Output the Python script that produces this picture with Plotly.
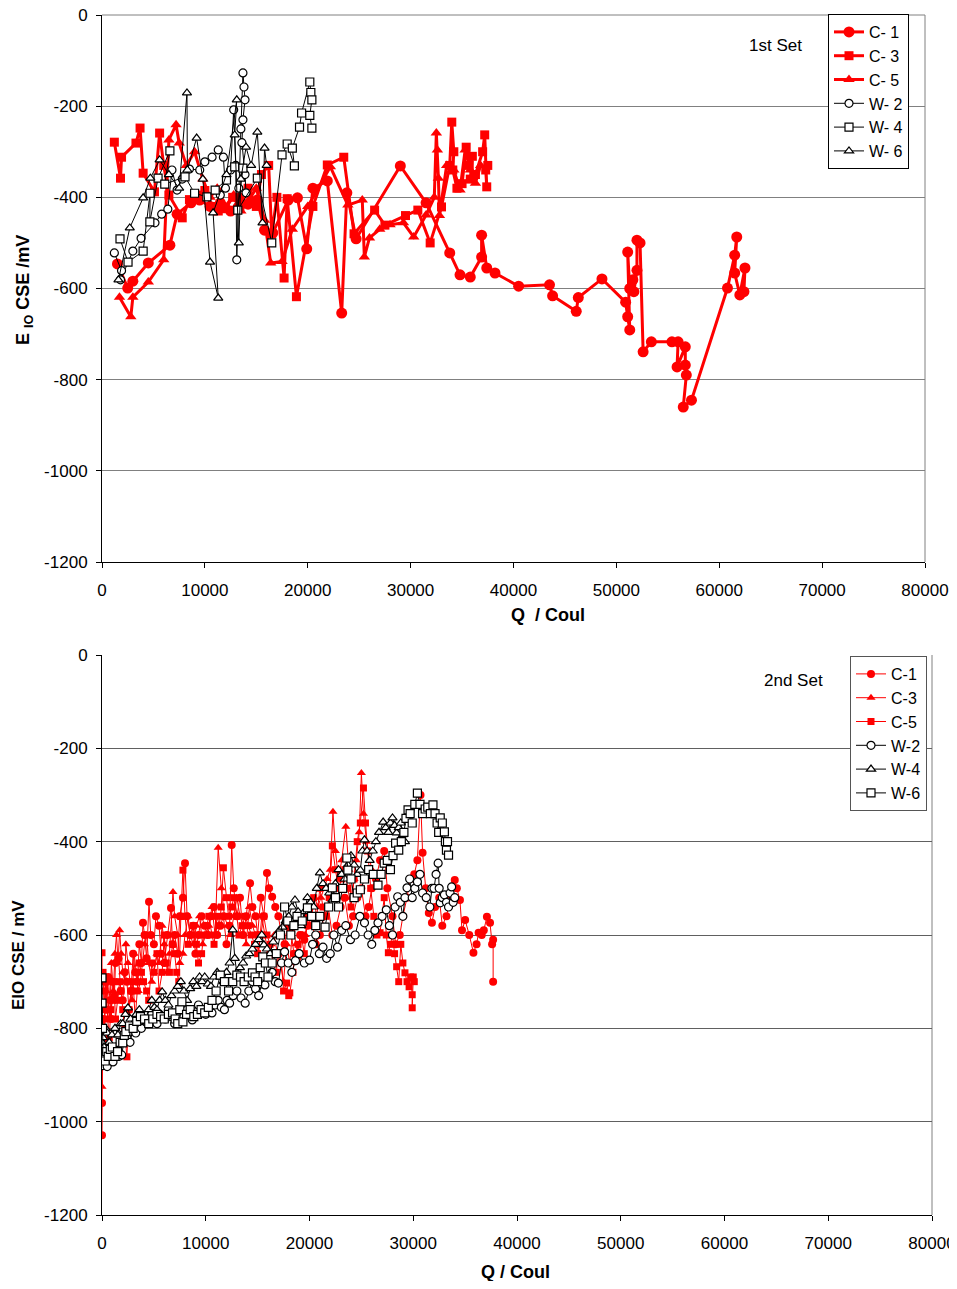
import plotly.graph_objects as go

# ---------------- Top chart (1st Set) ----------------
C1_q = [1500,2500,3000,4500,6600,7300,8650,9500,10500,11500,12500,13400,14200,15100,15800,16600,18100,19000,19900,20500,21900,23300,23800,24700,29000,31500,33800,34800,35800,36900,36900,37400,38200,40500,43500,43800,46100,46300,48600,50900,51100,51300,51100,51300,51600,51700,52000,52000,52300,52600,53400,55400,56000,55900,56700,56700,56800,56500,57300,60800,61500,61700,61500,62000,62500,62400]
C1_e = [-546,-599,-584,-544,-505,-437,-412,-406,-420,-412,-430,-401,-415,-406,-472,-478,-406,-401,-513,-380,-364,-654,-390,-491,-331,-412,-522,-570,-575,-531,-483,-555,-566,-595,-592,-616,-650,-620,-579,-630,-662,-691,-520,-600,-581,-607,-560,-494,-500,-739,-717,-717,-717,-772,-728,-768,-790,-860,-845,-599,-527,-487,-566,-614,-555,-607]

C3_q = [1200,1800,1900,3300,3700,4000,5100,5600,6000,6500,7800,8500,9300,10000,10700,11300,12000,12700,13400,14200,15000,15500,16200,16500,17000,17700,18000,18900,20500,21900,23500,24500,26500,27500,29500,30700,31900,33000,33800,34000,34200,34100,34500,35000,35400,35700,36000,35800,36300,37000,37200,37400,37300,37500]
C3_e = [-279,-358,-312,-281,-248,-347,-388,-259,-330,-395,-445,-405,-395,-385,-420,-430,-425,-400,-420,-380,-420,-350,-330,-480,-400,-577,-403,-618,-420,-329,-312,-480,-428,-461,-440,-428,-500,-421,-330,-235,-300,-340,-380,-370,-290,-330,-310,-360,-350,-300,-263,-377,-340,-330]

C5_q = [1700,2800,3000,4500,6000,6500,7200,7500,8200,9000,9800,10500,11200,12000,12800,13500,14300,15000,15800,16400,17500,18500,20000,22200,23900,25300,25500,26000,27000,28000,29300,30300,31500,32300,32500,32600,32700,32800,33500,34200,34800,35300,35800,36300,36800]
C5_e = [-619,-662,-619,-586,-537,-274,-241,-281,-330,-300,-360,-400,-380,-420,-395,-430,-405,-380,-450,-544,-541,-470,-420,-333,-417,-406,-531,-489,-470,-460,-456,-487,-439,-400,-259,-296,-358,-440,-330,-340,-384,-296,-340,-369,-330]

W2_q = [1200,1900,1800,3000,3800,5150,5800,6400,6800,7300,7800,8500,9500,10000,10700,11300,11800,12000,11500,12500,12800,13000,13100,13300,13500,13700,13800,13900,13700,13600,13900,14000]
W2_e = [-522,-561,-581,-518,-490,-456,-437,-426,-340,-384,-360,-338,-340,-322,-312,-296,-312,-380,-395,-340,-208,-330,-537,-380,-250,-127,-158,-186,-230,-280,-350,-390]

W4_q = [1750,2530,4000,4670,4650,5450,6600,6100,8070,9000,10200,11000,12100,12900,13700,13200,15100,16500,17500,18000,18700,18500,19200,19400,20200,20300,20400,20200,20400]
W4_e = [-491,-542,-518,-391,-454,-358,-298,-371,-355,-391,-399,-384,-362,-333,-336,-428,-358,-500,-307,-283,-331,-292,-246,-215,-147,-170,-186,-220,-248]

W6_q = [1600,2700,4000,4700,5600,6500,7500,8260,8300,9200,9800,10500,11300,10800,12100,13100,12900,13300,13500,14000,14500,15100,15600,15800,16000]
W6_e = [-581,-467,-401,-358,-318,-350,-380,-171,-340,-270,-360,-542,-621,-434,-350,-186,-263,-500,-360,-290,-330,-257,-456,-292,-330]

# ---------------- Bottom chart (2nd Set): (Q, E) readings ----------------
B_C1 = [(0,-1029),(0,-960),(50,-880),(100,-780),(200,-830),(300,-700),(400,-760),(600,-690),(800,-740),(900,-780),
        (1000,-700),(1200,-730),(1300,-660),(1600,-650),(1800,-720),(2000,-740),(2200,-680),(2400,-700),(2600,-760),(2800,-720),
        (3000,-640),(3200,-680),(3400,-700),(3600,-620),(3800,-660),(3950,-574),(4100,-600),(4300,-650),(4530,-529),(4700,-600),
        (5000,-620),(5200,-560),(5500,-580),(5700,-640),(6000,-660),(6300,-600),(6650,-542),(6800,-620),(7000,-600),(7300,-640),
        (7500,-560),(7800,-520),(8000,-446),(8200,-560),(8500,-600),(8800,-580),(9000,-640),(9300,-600),(9600,-560),(9900,-580),
        (10200,-600),(10500,-560),(10800,-540),(11100,-600),(11400,-580),(11700,-560),(12000,-620),(12300,-580),(12500,-407),(12700,-500),
        (13000,-560),(13300,-520),(13600,-600),(13900,-560),(14270,-489),(14500,-540),(14800,-560),(15000,-600),(15300,-520),(15600,-560),
        (15900,-467),(16100,-500),(16400,-518),(16700,-540),(17000,-560),(17300,-600),(17600,-620),(17900,-580),(18200,-590),(18500,-640),
        (18800,-650),(19100,-600),(19500,-610),(19800,-580),(20200,-560),(20600,-620),(21000,-600),(21400,-560),(21800,-540),(22200,-600),
        (22600,-580),(23000,-540),(23400,-520),(23800,-580),(24200,-560),(24600,-520),(25000,-500),(25400,-560),(25700,-540),(26000,-500),
        (26400,-480),(26800,-440),(27200,-420),(27500,-500),(28000,-560),(28300,-620),(28700,-600),(29000,-560),(29400,-520),(29700,-480),
        (30100,-470),(30400,-440),(30700,-300),(30900,-424),(31200,-500),(31500,-553),(31800,-574),(32100,-540),(32500,-520),(32800,-580),
        (33200,-560),(33600,-520),(34000,-482),(34200,-500),(34500,-525),(34700,-590),(35000,-568),(35400,-600),(35800,-638),(36100,-620),
        (36300,-595),(36600,-600),(36800,-590),(37100,-561),(37400,-574),(37600,-620),(37700,-610),(37700,-700)]

B_C3 = [(0,-925),(0,-880),(100,-800),(200,-840),(300,-760),(400,-720),(500,-700),(700,-780),(800,-740),(900,-660),
        (1100,-720),(1250,-640),(1400,-600),(1550,-660),(1700,-590),(1850,-640),(2000,-680),(2200,-700),(2300,-620),(2500,-660),
        (2700,-700),(2900,-740),(3100,-640),(3300,-680),(3500,-720),(3700,-700),(3900,-660),(4100,-620),(4300,-600),(4500,-660),
        (4800,-700),(5000,-680),(5300,-640),(5500,-660),(5800,-580),(6000,-620),(6300,-680),(6500,-640),(6840,-508),(7000,-560),
        (7300,-600),(7500,-660),(7800,-640),(8000,-600),(8300,-560),(8500,-600),(8800,-620),(9100,-580),(9400,-560),(9700,-620),
        (10000,-600),(10300,-580),(10600,-540),(10900,-600),(11200,-413),(11500,-500),(11800,-560),(12100,-580),(12400,-600),(12700,-560),
        (13000,-520),(13300,-560),(13600,-580),(13900,-620),(14200,-540),(14500,-580),(14800,-600),(15100,-640),(15400,-560),(15700,-600),
        (16000,-640),(16300,-620),(16600,-600),(16900,-640),(17200,-660),(17500,-700),(17800,-620),(18100,-660),(18400,-580),(18700,-620),
        (19000,-640),(19300,-600),(19600,-600),(19900,-560),(20200,-560),(20500,-520),(20800,-540),(21100,-520),(21400,-500),(21700,-480),
        (22000,-460),(22260,-336),(22500,-420),(22800,-480),(23100,-440),(23500,-368),(23800,-460),(24000,-520),(24300,-480),(24500,-440),
        (24800,-380),(25000,-253),(25200,-340),(25500,-400),(25800,-440),(26000,-460)]

B_C5 = [(0,-638),(0,-700),(100,-680),(200,-760),(300,-720),(400,-700),(550,-780),(700,-820),(850,-760),(1000,-740),
        (1150,-700),(1300,-780),(1500,-740),(1700,-700),(1850,-720),(2000,-760),(2200,-800),(2400,-861),(2600,-760),(2800,-720),
        (3000,-700),(3200,-780),(3400,-720),(3600,-660),(3800,-680),(4000,-700),(4300,-720),(4500,-740),(4800,-660),(5000,-680),
        (5300,-640),(5500,-720),(5800,-680),(6000,-600),(6200,-660),(6500,-680),(6800,-620),(7000,-640),(7200,-680),(7400,-700),
        (7600,-560),(7800,-461),(8000,-560),(8300,-620),(8600,-600),(8800,-580),(9100,-620),(9300,-660),(9600,-640),(9800,-600),
        (10100,-580),(10300,-560),(10600,-600),(10800,-620),(11100,-560),(11300,-580),(11500,-540),(11700,-456),(12000,-520),(12200,-560),
        (12500,-540),(12700,-520),(13000,-560),(13200,-600),(13500,-580),(13800,-560),(14100,-580),(14400,-600),(14700,-620),(15000,-640),
        (15300,-600),(15600,-560),(15900,-600),(16200,-620),(16500,-660),(16800,-680),(17000,-640),(17300,-660),(17500,-720),(17800,-703),
        (18000,-730),(18100,-724),(18400,-680),(18600,-640),(18900,-620),(19200,-600),(19500,-640),(19800,-560),(20100,-580),(20400,-520),
        (20700,-560),(21000,-500),(21300,-540),(21600,-560),(21900,-520),(22200,-409),(22500,-460),(22800,-500),(23100,-480),(23400,-460),
        (23700,-500),(24000,-540),(24300,-480),(24600,-400),(24900,-360),(25200,-285),(25400,-360),(25600,-420),(25900,-500),(26200,-560),
        (26500,-600),(26800,-595),(27000,-560),(27200,-520),(27400,-600),(27600,-638),(27800,-620),(28000,-600),(28200,-640),(28400,-668),
        (28600,-700),(28800,-620),(29000,-660),(29200,-681),(29400,-700),(29600,-711),(29750,-690),(29900,-728),(29900,-756),(30000,-690),
        (30100,-700)]

B_W2 = [(0,-860),(50,-880),(100,-840),(200,-870),(300,-860),(500,-882),(650,-860),(800,-850),(1060,-872),(1200,-850),
        (1400,-840),(1650,-860),(1900,-857),(2100,-830),(2400,-820),(2700,-830),(3000,-800),(3250,-810),(3500,-790),(3800,-800),
        (4100,-782),(4400,-790),(4800,-770),(5050,-780),(5300,-790),(5550,-770),(5800,-775),(6100,-780),(6400,-760),(6700,-775),
        (7000,-790),(7300,-780),(7600,-770),(7900,-775),(8200,-760),(8450,-770),(8700,-782),(9000,-765),(9300,-750),(9650,-760),
        (10000,-770),(10300,-755),(10600,-767),(10900,-750),(11200,-740),(11500,-755),(11800,-760),(12050,-740),(12300,-746),(12650,-730),
        (13000,-720),(13400,-735),(13800,-746),(14150,-720),(14500,-700),(14800,-715),(15100,-730),(15400,-705),(15700,-707),(16050,-690),
        (16400,-680),(16700,-700),(17000,-703),(17300,-660),(17600,-636),(17950,-660),(18300,-680),(18650,-655),(19000,-640),(19500,-660),
        (20000,-654),(20300,-620),(20600,-600),(20950,-640),(21300,-626),(21650,-650),(22000,-640),(22350,-600),(22700,-626),(23100,-590),
        (23500,-580),(23950,-610),(24400,-600),(24850,-560),(25300,-574),(25650,-600),(26000,-620),(26300,-590),(26600,-574),(27000,-560),
        (27400,-546),(27700,-580),(28000,-600),(28250,-540),(28500,-518),(28750,-530),(29000,-560),(29200,-520),(29400,-499),(29650,-480),
        (29900,-520),(30150,-500),(30400,-486),(30650,-470),(30900,-510),(31250,-520),(31600,-540),(31800,-500),(32000,-500),(32200,-470),
        (32400,-446),(32500,-500),(32600,-531),(32800,-520),(33000,-514),(33200,-530),(33400,-540),(33550,-510),(33700,-497),(33850,-530),
        (34000,-520)]

B_W4 = [(0,-830),(0,-850),(100,-820),(200,-840),(350,-800),(500,-810),(700,-830),(960,-814),(1250,-800),(1540,-814),
        (1800,-790),(2000,-790),(2250,-770),(2500,-756),(2750,-780),(3000,-790),(3300,-770),(3600,-760),(3900,-775),(4200,-780),
        (4500,-760),(4800,-740),(5050,-755),(5300,-760),(5550,-740),(5800,-722),(6100,-740),(6400,-750),(6700,-730),(7000,-720),
        (7300,-710),(7600,-700),(7900,-720),(8200,-740),(8500,-715),(8800,-700),(9100,-710),(9400,-690),(9650,-700),(9900,-690),
        (10200,-705),(10500,-710),(10800,-690),(11100,-680),(11400,-690),(11700,-700),(12000,-680),(12300,-660),(12600,-589),(12800,-650),
        (13000,-681),(13300,-670),(13600,-660),(13900,-645),(14200,-640),(14500,-630),(14800,-620),(15100,-610),(15400,-600),(15600,-621),
        (15900,-630),(16200,-640),(16500,-615),(16800,-600),(17100,-590),(17400,-583),(17700,-570),(18000,-560),(18300,-540),(18600,-525),
        (18900,-550),(19200,-580),(19500,-550),(19800,-520),(20100,-530),(20400,-540),(20700,-500),(21000,-467),(21300,-490),(21600,-500),
        (21900,-510),(22200,-525),(22500,-490),(22800,-460),(23100,-470),(23400,-480),(23700,-450),(24000,-430),(24300,-450),(24600,-470),
        (24900,-461),(25100,-420),(25300,-396),(25550,-420),(25800,-440),(26100,-420),(26400,-400),(26700,-380),(27100,-358),(27350,-370),
        (27600,-380),(27800,-360),(28000,-349),(28200,-365),(28400,-381),(28600,-370),(28800,-360),(29000,-385),(29200,-400)]

B_W6 = [(0,-692),(0,-746),(50,-800),(100,-850),(200,-860),(300,-870),(450,-850),(600,-860),(800,-845),(1000,-840),
        (1250,-860),(1500,-850),(1750,-830),(2000,-831),(2150,-815),(2300,-807),(2650,-795),(3000,-800),(3350,-785),(3700,-775),
        (4100,-780),(4500,-790),(4900,-780),(5300,-770),(5650,-775),(6000,-780),(6400,-770),(6800,-767),(7050,-780),(7300,-790),
        (7500,-760),(7700,-743),(7800,-786),(8150,-770),(8500,-760),(8850,-775),(9200,-770),(9550,-760),(9900,-767),(10250,-755),
        (10600,-740),(11000,-720),(11400,-686),(11800,-700),(12200,-720),(12600,-700),(13000,-686),(13350,-690),(13700,-700),(14100,-690),
        (14500,-681),(14750,-690),(15000,-700),(15250,-670),(15500,-647),(15750,-660),(16000,-690),(16400,-660),(16800,-640),(17200,-600),
        (17600,-540),(17900,-570),(18200,-600),(18500,-580),(18800,-560),(19300,-570),(19800,-542),(20200,-560),(20600,-580),(21000,-560),
        (21500,-583),(21850,-540),(22200,-499),(22500,-520),(22800,-540),(23200,-500),(23600,-435),(23700,-461),(24000,-480),(24300,-520),
        (24600,-510),(24900,-503),(25300,-480),(25700,-460),(26150,-470),(26600,-493),(26900,-470),(27200,-446),(27500,-440),(27800,-460),
        (28050,-430),(28300,-403),(28600,-418),(28850,-400),(29100,-380),(29300,-350),(29500,-332),(29700,-340),(29900,-360),(30150,-320),
        (30400,-296),(30650,-320),(30900,-340),(31150,-330),(31400,-326),(31650,-340),(31900,-321),(32100,-340),(32300,-360),(32450,-380),
        (32600,-349),(32800,-360),(33000,-379),(33100,-400),(33200,-418),(33300,-400),(33400,-429)]

x_ticks = [0,10000,20000,30000,40000,50000,60000,70000,80000]
x_labels = ["0","10000","20000","30000","40000","50000","60000","70000","80000"]
y_ticks = [0,-200,-400,-600,-800,-1000,-1200]
y_labels = ["0","-200","-400","-600","-800","-1000","-1200"]

FONT = "Arial, Liberation Sans, sans-serif"
RED = "#FF0000"

fig = go.Figure()

def red_trace(x, y, name, symbol, size, width, xa, ya, legend):
    fig.add_trace(go.Scatter(x=x, y=y, name=name, mode="lines+markers",
                             line=dict(color=RED, width=width),
                             marker=dict(symbol=symbol, size=size, color=RED, line=dict(width=0)),
                             xaxis=xa, yaxis=ya, legend=legend))

def black_trace(x, y, name, symbol, size, xa, ya, legend):
    fig.add_trace(go.Scatter(x=x, y=y, name=name, mode="lines+markers",
                             line=dict(color="black", width=1),
                             marker=dict(symbol=symbol, size=size, color="white",
                                         line=dict(color="black", width=1.2)),
                             xaxis=xa, yaxis=ya, legend=legend))

def qs(pairs): return [p[0] for p in pairs]
def es(pairs): return [p[1] for p in pairs]

# top
red_trace(C1_q, C1_e, "C- 1", "circle", 11, 3, "x", "y", "legend")
red_trace(C3_q, C3_e, "C- 3", "square", 9, 3, "x", "y", "legend")
red_trace(C5_q, C5_e, "C- 5", "triangle-up", 10, 3, "x", "y", "legend")
black_trace(W2_q, W2_e, "W- 2", "circle", 8, "x", "y", "legend")
black_trace(W4_q, W4_e, "W- 4", "square", 8, "x", "y", "legend")
black_trace(W6_q, W6_e, "W- 6", "triangle-up", 8, "x", "y", "legend")

# bottom
red_trace(qs(B_C1), es(B_C1), "C-1", "circle", 8, 1, "x2", "y2", "legend2")
red_trace(qs(B_C3), es(B_C3), "C-3", "triangle-up", 8, 1, "x2", "y2", "legend2")
red_trace(qs(B_C5), es(B_C5), "C-5", "square", 7, 1, "x2", "y2", "legend2")
black_trace(qs(B_W2), es(B_W2), "W-2", "circle", 8, "x2", "y2", "legend2")
black_trace(qs(B_W4), es(B_W4), "W-4", "triangle-up", 8, "x2", "y2", "legend2")
black_trace(qs(B_W6), es(B_W6), "W-6", "square", 8, "x2", "y2", "legend2")

# page has an 8px body margin: map page pixels to figure paper coords
OFF = 8
W, H = 941, 1273
def px(xp): return (xp - OFF) / W
def py(yp): return 1 - (yp - OFF) / H

axis_common = dict(showline=True, linecolor="black", linewidth=1, ticks="outside",
                   ticklen=5, tickcolor="black", tickfont=dict(family=FONT, size=17, color="black"),
                   zeroline=False, automargin=False, ticklabeloverflow="allow")

fig.update_layout(
    width=W, height=H, margin=dict(l=0, r=0, t=0, b=0),
    paper_bgcolor="white", plot_bgcolor="white",
    font=dict(family=FONT, color="black"),
    xaxis=dict(domain=[px(102), px(925)], range=[0, 80000], tickvals=x_ticks, ticktext=x_labels,
               showgrid=False, anchor="y", ticklabelstandoff=8, **axis_common),
    yaxis=dict(domain=[py(562), py(15)], range=[-1200, 0], tickvals=y_ticks, ticktext=y_labels,
               showgrid=True, gridcolor="#808080", gridwidth=1, anchor="x", ticklabelstandoff=5, **axis_common),
    xaxis2=dict(domain=[px(102), px(932)], range=[0, 80000], tickvals=x_ticks, ticktext=x_labels,
                showgrid=False, anchor="y2", ticklabelstandoff=8, **axis_common),
    yaxis2=dict(domain=[py(1215), py(655)], range=[-1200, 0], tickvals=y_ticks, ticktext=y_labels,
                showgrid=True, gridcolor="#606060", gridwidth=1, anchor="x2", ticklabelstandoff=5, **axis_common),
    legend=dict(x=px(828), y=py(14), xanchor="left", yanchor="top",
                bgcolor="white", bordercolor="black", borderwidth=1,
                font=dict(family=FONT, size=16, color="black"), tracegroupgap=0),
    legend2=dict(x=px(850), y=py(656), xanchor="left", yanchor="top",
                 bgcolor="white", bordercolor="#555", borderwidth=1,
                 font=dict(family=FONT, size=16, color="black"), tracegroupgap=0),
    showlegend=True,
)

# plot-area borders (top and right) in gray
fig.add_shape(type="line", xref="paper", yref="paper", x0=px(102), x1=px(925), y0=py(15), y1=py(15),
              line=dict(color="#808080", width=1), layer="below")
fig.add_shape(type="line", xref="paper", yref="paper", x0=px(925), x1=px(925), y0=py(562), y1=py(15),
              line=dict(color="#808080", width=1), layer="below")
fig.add_shape(type="line", xref="paper", yref="paper", x0=px(932), x1=px(932), y0=py(1215), y1=py(655),
              line=dict(color="#808080", width=1), layer="below")

ann = [
    dict(text="1st Set", x=px(775), y=py(46), size=17, angle=0),
    dict(text="2nd Set", x=px(793), y=py(680), size=17, angle=0),
    dict(text="<b>Q  / Coul</b>", x=px(548), y=py(615), size=18, angle=0),
    dict(text="<b>Q / Coul</b>", x=px(516), y=py(1272), size=18, angle=0),
    dict(text="<b>E <sub>IO</sub> CSE /mV</b>", x=px(24), y=py(290), size=18, angle=-90),
    dict(text="<b>EIO CSE / mV</b>", x=px(18), y=py(955), size=17, angle=-90),
]
for a in ann:
    fig.add_annotation(text=a["text"], x=a["x"], y=a["y"], xref="paper", yref="paper",
                       showarrow=False, xanchor="center", yanchor="middle", textangle=a["angle"],
                       borderpad=0, font=dict(family=FONT, size=a["size"], color="black"))

fig.write_html("out.html")
